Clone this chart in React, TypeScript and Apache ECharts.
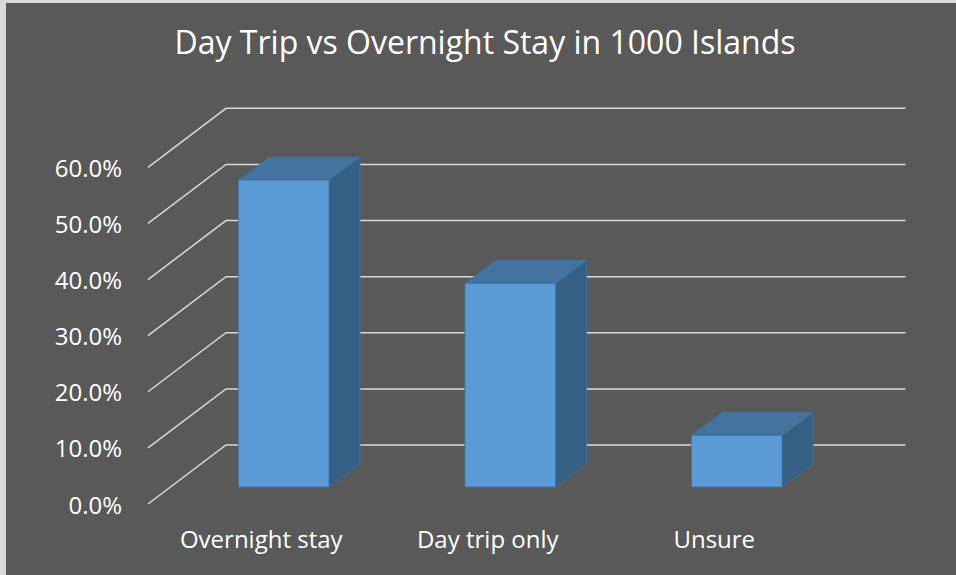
import React, { useEffect, useRef } from "react";
import * as echarts from "echarts";

const chartTitle = "Day Trip vs Overnight Stay in 1000 Islands";
const categories = ["Overnight stay", "Day trip only", "Unsure"];
const shares = [0.547, 0.363, 0.092];
const yTicks = [0, 0.1, 0.2, 0.3, 0.4, 0.5, 0.6];

// oblique 3D projection (pixels)
const WALL_DX = 78;
const WALL_DY = -59;
const BAR_FX = 22.5;
const BAR_FY = -17;
const BAR_DX = 31;
const BAR_DY = -23;
const BAR_RATIO = 0.4;

const FONT = "'Open Sans', 'Noto Sans', sans-serif";

export default function App() {
  const ref = useRef<HTMLDivElement>(null);

  useEffect(() => {
    if (!ref.current) return;
    const chart = echarts.init(ref.current, null, { renderer: "svg" });

    const gridRender = (params: any, api: any) => {
      const v = api.value(1);
      const p = api.coord([0, v]);
      const cs = params.coordSys;
      const left = cs.x;
      const right = cs.x + cs.width;
      const y = p[1];
      return {
        type: "polyline",
        shape: {
          points: [
            [left, y],
            [left + WALL_DX, y + WALL_DY],
            [right + WALL_DX, y + WALL_DY],
          ],
        },
        style: { stroke: "#d9d9d9", lineWidth: 1.5, fill: "none" },
        silent: true,
      };
    };

    const barRender = (params: any, api: any) => {
      const i = api.value(0);
      const v = api.value(1);
      const base = api.coord([i, 0]);
      const top = api.coord([i, v]);
      const w = api.size([1, 0])[0] * BAR_RATIO;
      const x0 = base[0] - w / 2 + BAR_FX;
      const yb = base[1] + BAR_FY;
      const yt = top[1] + BAR_FY;
      const x1 = x0 + w;
      const edge = "#41719c";
      return {
        type: "group",
        children: [
          {
            type: "polygon",
            shape: {
              points: [
                [x1, yt],
                [x1 + BAR_DX, yt + BAR_DY],
                [x1 + BAR_DX, yb + BAR_DY],
                [x1, yb],
              ],
            },
            style: { fill: "#365f86", stroke: edge, lineWidth: 0.8 },
          },
          {
            type: "polygon",
            shape: {
              points: [
                [x0, yt],
                [x0 + BAR_DX, yt + BAR_DY],
                [x1 + BAR_DX, yt + BAR_DY],
                [x1, yt],
              ],
            },
            style: { fill: "#44739f", stroke: edge, lineWidth: 0.8 },
          },
          {
            type: "rect",
            shape: { x: x0, y: yt, width: w, height: yb - yt },
            style: { fill: "#5b9bd5", stroke: edge, lineWidth: 0.8 },
          },
        ],
      };
    };

    chart.setOption({
      animation: false,
      backgroundColor: "#595959",
      title: {
        text: chartTitle,
        left: 479,
        top: 22,
        padding: 0,
        textAlign: "center",
        textStyle: {
          color: "#ffffff",
          fontFamily: FONT,
          fontSize: 32,
          fontWeight: "normal",
        },
      },
      grid: {
        left: 142,
        top: 164.3,
        width: 679.5,
        height: 336.7,
        outerBoundsMode: "none",
      },
      xAxis: {
        type: "category",
        data: categories,
        axisLine: { show: false },
        axisTick: { show: false },
        splitLine: { show: false },
        axisLabel: {
          color: "#ffffff",
          fontFamily: FONT,
          fontSize: 24,
          margin: 22,
        },
      },
      yAxis: {
        type: "value",
        min: 0,
        max: 0.6,
        interval: 0.1,
        axisLine: { show: false },
        axisTick: { show: false },
        splitLine: { show: false },
        axisLabel: {
          color: "#ffffff",
          fontFamily: FONT,
          fontSize: 24,
          margin: 26,
          formatter: (v: number) => (v * 100).toFixed(1) + "%",
        },
      },
      series: [
        {
          type: "custom",
          name: "gridlines",
          renderItem: gridRender,
          data: yTicks.map((v) => [0, v]),
          encode: { x: 0, y: 1 },
          z: 1,
          silent: true,
        },
        {
          type: "custom",
          name: "Share",
          renderItem: barRender,
          data: shares.map((v, i) => [i, v]),
          encode: { x: 0, y: 1 },
          z: 2,
        },
      ],
    });

    return () => chart.dispose();
  }, []);

  return (
    <div
      style={{
        position: "fixed",
        left: 0,
        top: 0,
        width: 956,
        height: 575,
        background: "#d9d9d9",
        overflow: "hidden",
      }}
    >
      <div
        ref={ref}
        style={{ position: "absolute", left: 6, top: 3, width: 950, height: 572 }}
      />
    </div>
  );
}
